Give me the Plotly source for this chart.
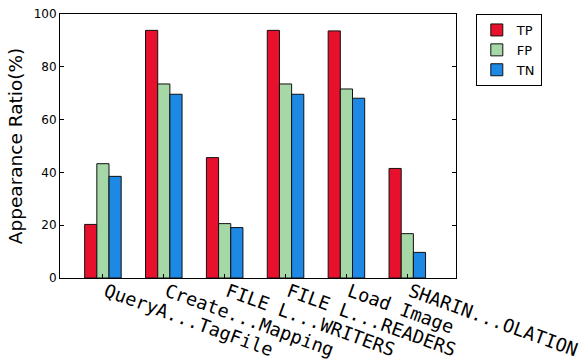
import plotly.graph_objects as go

categories = ["QueryA...TagFile", "Create...Mapping", "FILE L...WRITERS",
              "FILE L...READERS", "Load Image", "SHARIN...OLATION"]
tp = [20.3, 93.8, 45.6, 93.8, 93.6, 41.5]
fp = [43.3, 73.5, 20.6, 73.5, 71.6, 16.8]
tn = [38.5, 69.6, 19.1, 69.6, 68.1, 9.7]
y_ticks = [0, 20, 40, 60, 80, 100]

series = [("TP", tp, "#E8112D"), ("FP", fp, "#A6D7A6"), ("TN", tn, "#1E88E5")]
xpos = list(range(len(categories)))

fig = go.Figure()
for name, vals, color in series:
    fig.add_trace(go.Bar(
        x=xpos, y=vals, name=name,
        marker=dict(color=color, line=dict(color="#111111", width=1)),
    ))

fig.update_layout(
    width=585, height=363,
    margin=dict(l=60, r=129, t=14, b=85, autoexpand=False),
    paper_bgcolor="white", plot_bgcolor="white",
    barmode="group", bargap=0.4, bargroupgap=0,
    font=dict(family="DejaVu Sans", color="black"),
    legend=dict(
        x=1.05, y=1, xanchor="left", yanchor="top",
        bordercolor="black", borderwidth=1,
        font=dict(family="DejaVu Sans", size=13, color="black"),
        tracegroupgap=0,
    ),
    showlegend=True,
)
fig.update_xaxes(
    range=[-0.705, 5.8], automargin=False,
    tickvals=xpos, ticktext=categories, tickangle=20,
    tickfont=dict(family="DejaVu Sans Mono", size=18.5, color="black"),
    ticks="inside", ticklen=4, tickcolor="black",
    ticklabelstandoff=-5, ticklabelshift=3,
    showline=True, linecolor="black", linewidth=1, mirror=True,
    showgrid=False, zeroline=False,
)
fig.update_yaxes(
    range=[0, 100], tickvals=y_ticks, automargin=False,
    tickfont=dict(family="DejaVu Sans", size=12, color="black"),
    ticks="inside", ticklen=4, tickcolor="black",
    showline=True, linecolor="black", linewidth=1, mirror="ticks",
    showgrid=False, zeroline=False,
    title=dict(text="Appearance Ratio(%)", font=dict(family="DejaVu Sans", size=18.5, color="black"), standoff=6),
)

fig.write_html("out.html")
